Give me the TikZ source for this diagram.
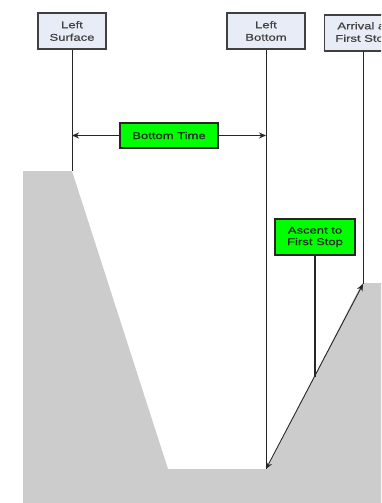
\documentclass[tikz,border=0pt]{standalone}
\usepackage{fontspec}
\setmainfont{Liberation Sans}
\newfontfamily\lblfont[FakeStretch=1.33,FakeBold=0.6]{Liberation Sans}
\usetikzlibrary{arrows.meta}
\definecolor{boxfill}{HTML}{E8ECF6}
\definecolor{ground}{HTML}{CCCCCC}
\definecolor{lbl}{HTML}{00FF00}
\begin{document}
\begin{tikzpicture}[x=1pt,y=-1pt,
  event/.style={draw=black!75,line width=1.3pt,fill=boxfill,align=center,font=\lblfont\fontsize{9.8}{12.5}\selectfont,text=black!75,inner sep=0pt},
  tag/.style={draw=black!85,line width=1.5pt,fill=lbl,align=center,font=\lblfont\fontsize{9.8}{11.5}\selectfont,text=black!85,inner sep=0pt},
  vline/.style={draw=black!85,line width=0.9pt},
  tip/.style={-{Stealth[length=7pt,width=6pt]}},
  both/.style={{Stealth[length=7pt,width=6pt]}-{Stealth[length=7pt,width=6pt]}}]
\useasboundingbox (0,0) rectangle (381,503);
\clip (0,0) rectangle (381,503);
% ground profile
\fill[ground] (23,171) -- (72,171) -- (168,469) -- (267,469) -- (362,283) -- (390,283) -- (390,510) -- (23,510) -- cycle;
% event boxes
\node[event,minimum width=68pt,minimum height=36pt] (ls) at (72,31) {Left\\Surface};
\node[event,minimum width=78pt,minimum height=36pt] (lb) at (266,31) {Left\\Bottom};
\node[event,minimum width=77pt,minimum height=36pt,anchor=west] (af) at (324,33) {Arrival at\\First Stop};
% anchor points on profile
\coordinate (s) at (72,171);
\coordinate (b) at (266,469);
\coordinate (f) at (363,284);
\coordinate (m) at (315,377);
\coordinate (ft) at (363,51);
\draw[vline] (ls.south) -- (s);
\draw[vline] (lb.south) -- (b);
\draw[vline] (ft) -- (f);
% bottom time
\node[tag,minimum width=98pt,minimum height=25pt] (bt) at (169,135.5) {Bottom Time};
\coordinate (bl) at (72,135.5);
\coordinate (br) at (266,135.5);
\draw[vline,line width=1.2pt,tip] (bt.west) -- (bl);
\draw[vline,line width=1.2pt,tip] (bt.east) -- (br);
% ascent
\node[tag,minimum width=80pt,minimum height=36pt] (as) at (315,237) {Ascent to\\First Stop};
\draw[vline,line width=1.2pt] (as.south) -- (m);
\draw[vline,both] (b) -- (f);
\end{tikzpicture}
\end{document}
